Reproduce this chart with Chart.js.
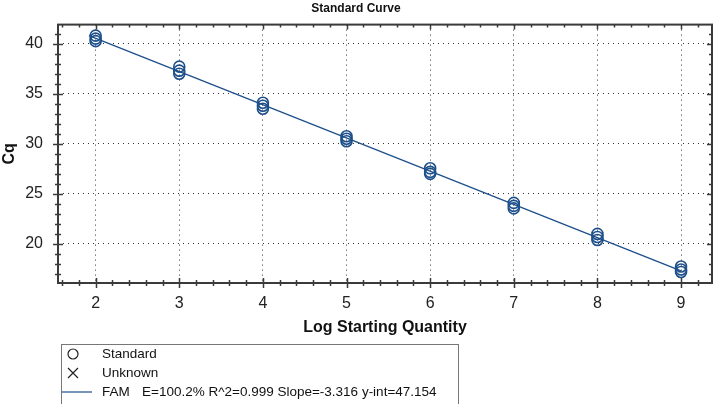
<!DOCTYPE html>
<html>
<head>
<meta charset="utf-8">
<script src="https://cdn.jsdelivr.net/npm/chart.js@4.4.1/dist/chart.umd.min.js"></script>
<style>
  html, body { margin: 0; padding: 0; background: #fff; overflow: hidden; }
  #wrap { width: 714px; height: 404px; position: relative; overflow: hidden; }
  canvas { display: block; }
</style>
</head>
<body>
<div id="wrap"><canvas id="stdCurve"></canvas></div>
<script>
// Standard curve data
const logQty = [2, 3, 4, 5, 6, 7, 8, 9];
const cqRep1 = [40.25, 37.0, 33.5, 30.25, 27.0, 23.55, 20.4, 17.2];
const cqRep2 = [40.5, 37.3, 33.8, 30.5, 27.2, 23.8, 20.7, 17.45];
const cqRep3 = [40.8, 37.7, 34.1, 30.75, 27.55, 24.1, 21.0, 17.75];

// regression line end points
const fitX = [1.92, 9.0];
const fitCq = [40.79, 17.31];

const xTicks = [2, 3, 4, 5, 6, 7, 8, 9];
const yTicks = [20, 25, 30, 35, 40];

const legendLabels = ['Standard', 'Unknown', 'FAM'];
const fitStats = 'E=100.2% R^2=0.999 Slope=-3.316 y-int=47.154';

const blue = '#1d4f8a';
const axisColor = '#3a3a3a';
const font = "'Liberation Sans', Arial, sans-serif";

const stdPoints = [];
[cqRep1, cqRep2, cqRep3].forEach(rep => {
    rep.forEach((cq, i) => stdPoints.push({ x: logQty[i], y: cq }));
});
const fitPoints = fitX.map((x, i) => ({ x: x, y: fitCq[i] }));

// box frame + minor/major tick marks on all four sides
const frameTicks = {
    id: 'frameTicks',
    afterDraw(chart) {
        const ctx = chart.ctx;
        const { left, right, top, bottom } = chart.chartArea;
        const xs = chart.scales.x, ys = chart.scales.y;
        ctx.save();
        ctx.strokeStyle = axisColor;
        ctx.lineWidth = 1.5;
        ctx.beginPath();
        for (let i = 0; i <= 50; i++) {
            const v = i / 5;
            const px = Math.round(xs.getPixelForValue(v)) + 0.5;
            if (px < left + 2 || px > right - 2) continue;
            const len = (i % 5 === 0) ? 5 : 3;
            ctx.moveTo(px, bottom - len); ctx.lineTo(px, bottom + len);
            ctx.moveTo(px, top); ctx.lineTo(px, top + len);
        }
        for (let v = 10; v <= 45; v++) {
            const py = Math.round(ys.getPixelForValue(v)) + 0.5;
            if (py < top + 2 || py > bottom - 2) continue;
            const len = (v % 5 === 0) ? 5 : 3;
            ctx.moveTo(left - len, py); ctx.lineTo(left + len, py);
            ctx.moveTo(right, py); ctx.lineTo(right - len, py);
        }
        ctx.stroke();
        ctx.lineWidth = 2;
        ctx.strokeRect(left, top, right - left, bottom - top);
        ctx.restore();
    }
};

// legend box under the axis title
const boxLegend = {
    id: 'boxLegend',
    afterDraw(chart) {
        const ctx = chart.ctx;
        const bx = 61, by = 344, bw = 397;
        const rows = [354, 373, 392];
        ctx.save();
        ctx.strokeStyle = '#777';
        ctx.lineWidth = 1;
        ctx.strokeRect(bx + 0.5, by + 0.5, bw, 80);
        ctx.strokeStyle = '#222';
        ctx.lineWidth = 1.2;
        ctx.beginPath();
        ctx.arc(73, rows[0], 5, 0, Math.PI * 2);
        ctx.stroke();
        ctx.beginPath();
        ctx.moveTo(68, rows[1] - 5); ctx.lineTo(78, rows[1] + 5);
        ctx.moveTo(78, rows[1] - 5); ctx.lineTo(68, rows[1] + 5);
        ctx.stroke();
        ctx.strokeStyle = blue;
        ctx.beginPath();
        ctx.moveTo(62, rows[2]); ctx.lineTo(92, rows[2]);
        ctx.stroke();
        ctx.fillStyle = '#111';
        ctx.font = '13.5px ' + font;
        ctx.textBaseline = 'middle';
        legendLabels.forEach((t, i) => ctx.fillText(t, 102, rows[i]));
        ctx.fillText(fitStats, 142, rows[2]);
        ctx.restore();
    }
};

const ctx = document.getElementById('stdCurve').getContext('2d');
new Chart(ctx, {
    type: 'scatter',
    data: {
        datasets: [
            {
                label: 'FAM',
                type: 'line',
                data: fitPoints,
                borderColor: blue,
                borderWidth: 1.3,
                pointRadius: 0,
                fill: false,
                order: 2
            },
            {
                label: 'Standard',
                data: stdPoints,
                pointStyle: 'circle',
                pointRadius: 5.5,
                borderColor: blue,
                borderWidth: 1.6,
                backgroundColor: 'rgba(0,0,0,0)',
                order: 1
            },
            {
                label: 'Unknown',
                data: [],
                pointStyle: 'crossRot',
                borderColor: '#222'
            }
        ]
    },
    options: {
        responsive: true,
        maintainAspectRatio: false,
        animation: false,
        layout: { autoPadding: false, padding: { left: 0, right: 2, top: 0, bottom: 62.4 } },
        plugins: {
            legend: { display: false },
            tooltip: { enabled: false },
            title: {
                display: true,
                text: 'Standard Curve',
                color: '#111',
                font: { family: font, size: 12, weight: 'bold' },
                padding: { top: 1, bottom: 8.6 }
            }
        },
        scales: {
            x: {
                type: 'linear',
                min: 1.55,
                max: 9.37,
                afterBuildTicks: s => { s.ticks = xTicks.map(v => ({ value: v })); },
                afterFit: s => { s.height = 58.6; s.paddingLeft = 0; s.paddingRight = 0; },
                ticks: { color: '#222', font: { family: font, size: 16 }, padding: 11 },
                grid: { color: '#333', lineWidth: 1, drawTicks: false, tickLength: 0 },
                border: { display: false, dash: [1, 4] },
                title: {
                    display: true,
                    text: 'Log Starting Quantity',
                    color: '#111',
                    font: { family: font, size: 16, weight: 'bold' },
                    padding: { top: 0, bottom: 4 }
                }
            },
            y: {
                type: 'linear',
                min: 16.1,
                max: 41.9,
                afterBuildTicks: s => { s.ticks = yTicks.map(v => ({ value: v })); },
                afterFit: s => { s.width = 58; },
                ticks: { color: '#222', font: { family: font, size: 16 }, padding: 15 },
                grid: { color: '#333', lineWidth: 1, drawTicks: false, tickLength: 0 },
                border: { display: false, dash: [1, 4] },
                title: {
                    display: true,
                    text: 'Cq',
                    color: '#111',
                    font: { family: font, size: 16, weight: 'bold' },
                    padding: { top: 0, bottom: 0 }
                }
            }
        }
    },
    plugins: [frameTicks, boxLegend]
});
</script>
</body>
</html>
